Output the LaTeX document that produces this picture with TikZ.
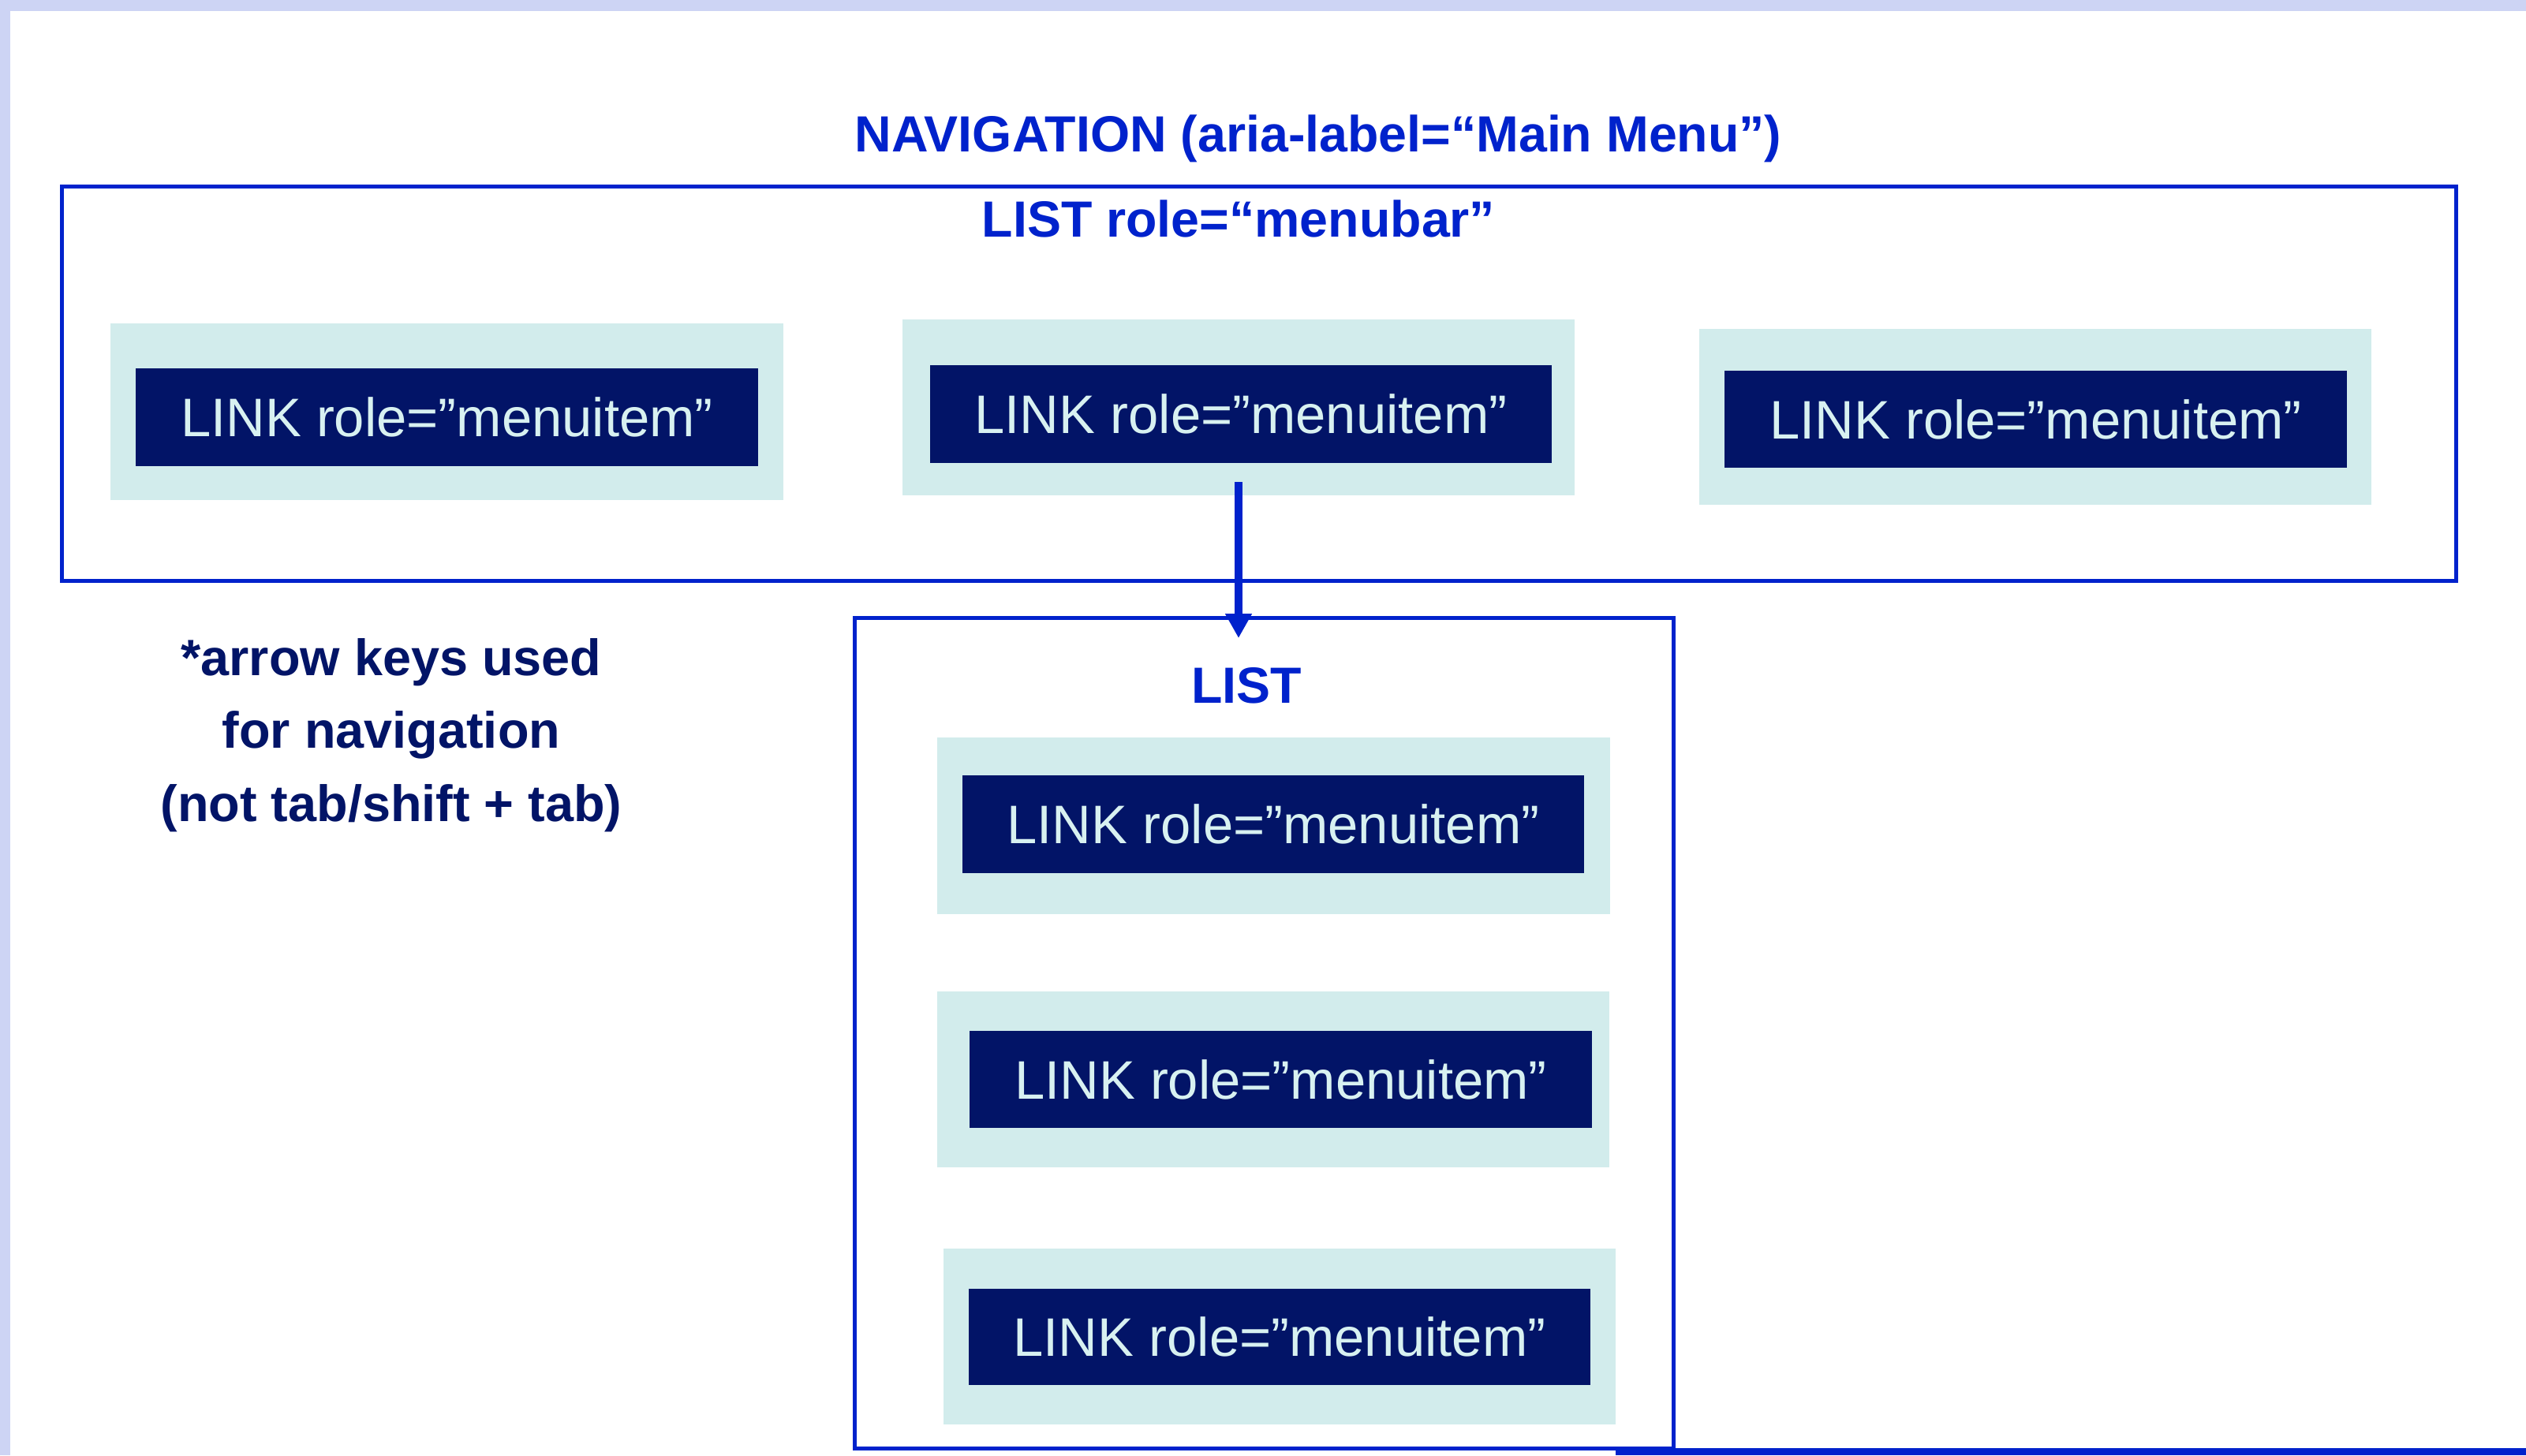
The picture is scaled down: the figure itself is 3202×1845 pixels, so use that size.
\documentclass[tikz,border=0pt]{standalone}
\usepackage{fontspec}
\setmainfont{Liberation Sans}
\usetikzlibrary{arrows.meta}
\definecolor{bandc}{RGB}{205,212,244}
\definecolor{blueln}{RGB}{0,34,204}
\definecolor{navyc}{RGB}{2,20,103}
\definecolor{tealc}{RGB}{210,236,236}
\definecolor{linktxt}{RGB}{216,241,241}
\begin{document}
\begin{tikzpicture}[x=1pt,y=-1pt,
  tealbox/.style={fill=tealc, draw=none, inner sep=0pt, outer sep=0pt, minimum width=852, minimum height=223},
  linkbox/.style={fill=navyc, draw=none, inner sep=0pt, outer sep=0pt, minimum width=788, minimum height=123,
    text=linktxt, font=\fontsize{68.8}{70}\selectfont},
  container/.style={draw=blueln, line width=5pt, fill=none, inner sep=0pt, outer sep=0pt},
  titletxt/.style={text=blueln, font=\fontsize{64.5}{70}\selectfont\bfseries, anchor=base, inner sep=0pt},
  notetxt/.style={text=navyc, font=\fontsize{64.8}{70}\selectfont\bfseries, anchor=base, inner sep=0pt},
  conn/.style={draw=blueln, line width=10pt, -{Triangle[width=32pt,length=31pt]}}
]
\useasboundingbox (0,0) rectangle (3202,1845);
\fill[bandc] (0,0) rectangle (3202,1845);
\fill[white] (13,14) rectangle (3202,1845);

% containers
\node[container, minimum width=3035, minimum height=500] (nav) at (1595.5,486) {};
\node[container, minimum width=1038, minimum height=1053] (sublist) at (1602,1309.5) {};

% titles
\node[titletxt] (navtitle) at (1671,192) {NAVIGATION (aria-label=“Main Menu”)};
\node[titletxt] (menubartitle) at (1570,300) {LIST role=“menubar”};
\node[titletxt] (listtitle) at (1580,891) {LIST};

% top row items
\node[tealbox, minimum width=853, minimum height=224] (t1) at (566.5,522) {};
\node[tealbox] (t2) at (1570,516.5) {};
\node[tealbox] (t3) at (2580,528) {};
\node[linkbox, minimum width=789, minimum height=124] (l1) at (566.5,529) {LINK role=”menuitem”};
\node[linkbox, minimum height=124] (l2) at (1573,525) {LINK role=”menuitem”};
\node[linkbox, minimum width=789] (l3) at (2580.5,531.5) {LINK role=”menuitem”};

% sub list items
\node[tealbox, minimum width=853, minimum height=224] (t4) at (1614.5,1047) {};
\node[tealbox] (t5) at (1614,1368.5) {};
\node[tealbox] (t6) at (1622,1694.5) {};
\node[linkbox, minimum height=124] (l4) at (1614,1045) {LINK role=”menuitem”};
\node[linkbox, minimum width=789] (l5) at (1623.5,1368.5) {LINK role=”menuitem”};
\node[linkbox, minimum height=122] (l6) at (1622,1695) {LINK role=”menuitem”};

% note
\node[notetxt] (note1) at (496,856) {*arrow keys used};
\node[notetxt] (note2) at (496,948) {for navigation};
\node[notetxt] (note3) at (496,1041) {(not tab/shift + tab)};

% connector
\coordinate (astart) at (1570,611);
\coordinate (aend) at (1570,809);
\draw[conn] (astart) -- (aend);

% bottom bar
\fill[blueln] (2048,1836) rectangle (3202,1845);
\end{tikzpicture}
\end{document}
